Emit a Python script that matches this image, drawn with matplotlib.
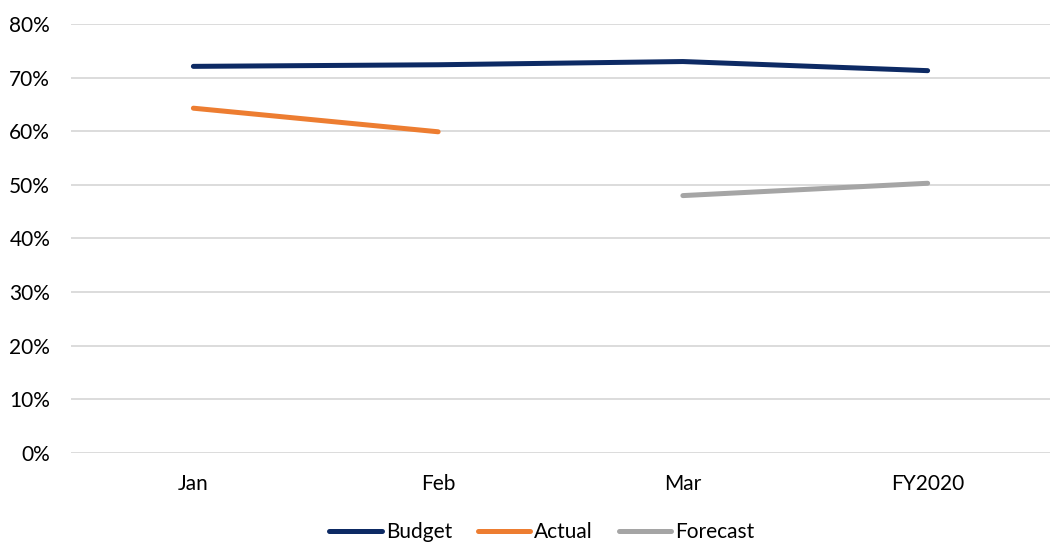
import matplotlib.pyplot as plt
import numpy as np

plt.rcParams['font.family'] = ['Lato', 'DejaVu Sans']

months = ['Jan', 'Feb', 'Mar', 'FY2020']
budget = [72.1, 72.4, 73.0, 71.3]
actual = [64.3, 59.9, np.nan, np.nan]
forecast = [np.nan, np.nan, 48.0, 50.3]

x = np.arange(len(months))

fig = plt.figure(figsize=(10.5, 5.48), dpi=100)
ax = fig.add_axes([71 / 1050, 1 - 453 / 548, 979 / 1050, 429 / 548])

ax.plot(x, budget, color='#0D2A64', lw=3.6, solid_capstyle='round', label='Budget')
ax.plot(x, actual, color='#ED7D31', lw=3.6, solid_capstyle='round', label='Actual')
ax.plot(x, forecast, color='#A5A5A5', lw=3.6, solid_capstyle='round', label='Forecast')

ax.set_xlim(-0.5, 3.5)
ax.set_ylim(0, 80)
ax.set_yticks(np.arange(0, 81, 10))
ax.set_yticklabels([f'{v}%' for v in range(0, 81, 10)])
ax.set_xticks(x)
ax.set_xticklabels(months)
ax.tick_params(length=0, labelsize=15, colors='black')
ax.tick_params(axis='x', pad=15)
ax.tick_params(axis='y', pad=15)
ax.grid(axis='y', color='#D9D9D9', lw=1.3)
ax.set_axisbelow(True)
for s in ax.spines.values():
    s.set_visible(False)

fig.legend(loc='center', bbox_to_anchor=(542 / 1050, 1 - 532 / 548), ncol=3,
           frameon=False, fontsize=15, handlelength=2.5, handletextpad=0.2,
           columnspacing=1.25)

fig.savefig('out.png', dpi=100)
